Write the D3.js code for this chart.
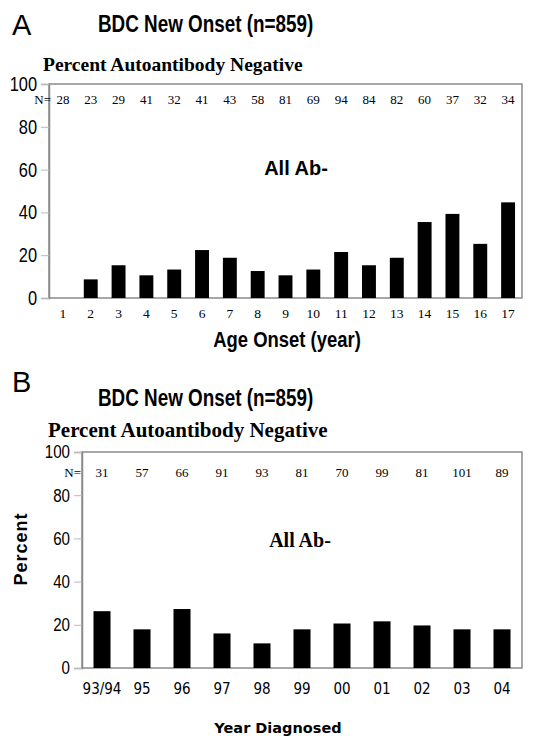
<!DOCTYPE html>
<html><head><meta charset="utf-8">
<script src="https://cdn.jsdelivr.net/npm/d3@7/dist/d3.min.js"></script>
<style>body{margin:0;background:#fff}svg{display:block}</style>
</head><body>
<script>
// ---- Data ----
const ageCategories = ["1","2","3","4","5","6","7","8","9","10","11","12","13","14","15","16","17"];
const ageValues = [0, 8.7, 15.3, 10.6, 13.3, 22.4, 18.8, 12.6, 10.6, 13.3, 21.5, 15.3, 18.8, 35.5, 39.3, 25.3, 44.7];
const ageN = [28,23,29,41,32,41,43,58,81,69,94,84,82,60,37,32,34];

const yearCategories = ["93/94","95","96","97","98","99","00","01","02","03","04"];
const yearValues = [26.3, 17.9, 27.3, 16.0, 11.4, 17.9, 20.6, 21.6, 19.7, 17.9, 17.9];
const yearN = [31,57,66,91,93,81,70,99,81,101,89];

const yTicks = [0,20,40,60,80,100];

// ---- Drawing ----
const W = 534, H = 736;
const svg = d3.select("body").append("svg").attr("width", W).attr("height", H);
const gray = "#8a8a8a";
const arial = "'Liberation Sans', Arial, sans-serif";
const times = "'Liberation Serif', 'Times New Roman', serif";
const dejavu = "'DejaVu Sans', Verdana, sans-serif";
const dejavuC = "'DejaVu Sans Condensed', 'DejaVu Sans', sans-serif";
const NARROW = 0.82;

// condensed text helper (no narrow font installed)
function narrowText(x, y, txt, size, bold, anchor) {
  return svg.append("text").attr("transform", `translate(${x},${y}) scale(${NARROW},1)`)
    .attr("text-anchor", anchor || "start").attr("font-family", arial)
    .attr("font-weight", bold ? "bold" : "normal").attr("font-size", size).text(txt);
}

function panel(o) {
  const g = svg.append("g");
  const x = d3.scaleBand().domain(o.cats).range([o.left, o.right])
    .paddingInner(o.pad).paddingOuter(o.pad / 2);
  const y = d3.scaleLinear().domain([0, 100]).range([o.bottom, o.top]);

  g.append("rect").attr("x", o.left).attr("y", y(100))
    .attr("width", o.right - o.left).attr("height", y(0) - y(100))
    .attr("fill", "none").attr("stroke", gray).attr("stroke-width", 1.5);

  const ya = g.append("g").attr("transform", `translate(${o.left},0)`)
    .call(d3.axisLeft(y).tickValues(yTicks).tickSize(8).tickPadding(4));
  ya.select(".domain").attr("stroke", gray).attr("stroke-width", 1.5);
  ya.selectAll(".tick line").attr("stroke", "#bbb").attr("stroke-width", 1);
  ya.selectAll("text").each(function () {
    const t = d3.select(this);
    const xx = +t.attr("x");
    t.attr("x", 0).attr("transform", `translate(${xx},0) scale(${NARROW},1)`);
  }).attr("font-family", arial).attr("font-size", o.yFontSize).attr("fill", "#000");

  g.selectAll("rect.bar").data(o.vals).join("rect").attr("class", "bar")
    .attr("x", (d, i) => x(o.cats[i])).attr("width", x.bandwidth())
    .attr("y", d => y(d)).attr("height", d => y(0) - y(d)).attr("fill", "#000");

  const xa = g.append("g").attr("transform", `translate(0,${y(0)})`)
    .call(d3.axisBottom(x).tickSize(0).tickPadding(o.xPad));
  xa.select(".domain").remove();
  xa.selectAll("text").attr("font-family", o.xFont).attr("font-size", o.xFontSize).attr("fill", "#000");

  g.append("text").attr("x", o.nEq).attr("y", o.nY).attr("text-anchor", "end")
    .attr("font-family", times).attr("font-size", 13).text("N=");
  g.selectAll("text.n").data(o.ns).join("text").attr("class", "n")
    .attr("x", (d, i) => x(o.cats[i]) + x.bandwidth() / 2).attr("y", o.nY)
    .attr("text-anchor", "middle").attr("font-family", times).attr("font-size", 13).text(d => d);
  return { x, y, g };
}

// Panel A
svg.append("text").attr("x", 12).attr("y", 35).attr("font-family", arial).attr("font-size", 29).text("A");
narrowText(98, 32, "BDC New Onset (n=859)", 23, true);
svg.append("text").attr("x", 43).attr("y", 71).attr("font-family", times).attr("font-size", 19.5)
  .attr("font-weight", "bold").text("Percent Autoantibody Negative");
panel({cats: ageCategories, vals: ageValues, ns: ageN, left: 49, right: 522, top: 84, bottom: 298,
  pad: 0.5, yFontSize: 20, xPad: 10, xFont: times, xFontSize: 13.5, nEq: 51, nY: 104});
svg.append("text").attr("x", 296).attr("y", 175).attr("text-anchor", "middle").attr("font-family", arial)
  .attr("font-weight", "bold").attr("font-size", 20).text("All Ab-");
narrowText(287, 347, "Age Onset (year)", 22.5, true, "middle");

// Panel B
svg.append("text").attr("x", 12).attr("y", 392).attr("font-family", arial).attr("font-size", 29).text("B");
narrowText(98, 406, "BDC New Onset (n=859)", 23, true);
svg.append("text").attr("x", 48).attr("y", 437).attr("font-family", times).attr("font-size", 21)
  .attr("font-weight", "bold").text("Percent Autoantibody Negative");
panel({cats: yearCategories, vals: yearValues, ns: yearN, left: 82, right: 522, top: 452, bottom: 668,
  pad: 0.575, yFontSize: 18.5, xPad: 15, xFont: dejavuC, xFontSize: 15, nEq: 81, nY: 477});
svg.append("text").attr("x", 300).attr("y", 547).attr("text-anchor", "middle").attr("font-family", times)
  .attr("font-weight", "bold").attr("font-size", 20).text("All Ab-");
svg.append("text").attr("transform", "translate(27,549) rotate(-90)").attr("text-anchor", "middle")
  .attr("font-family", arial).attr("font-weight", "bold").attr("font-size", 18).attr("letter-spacing", 1)
  .text("Percent");
svg.append("text").attr("x", 278).attr("y", 733).attr("text-anchor", "middle").attr("font-family", dejavu)
  .attr("font-weight", "bold").attr("font-size", 14.5).text("Year Diagnosed");
</script>
</body></html>
